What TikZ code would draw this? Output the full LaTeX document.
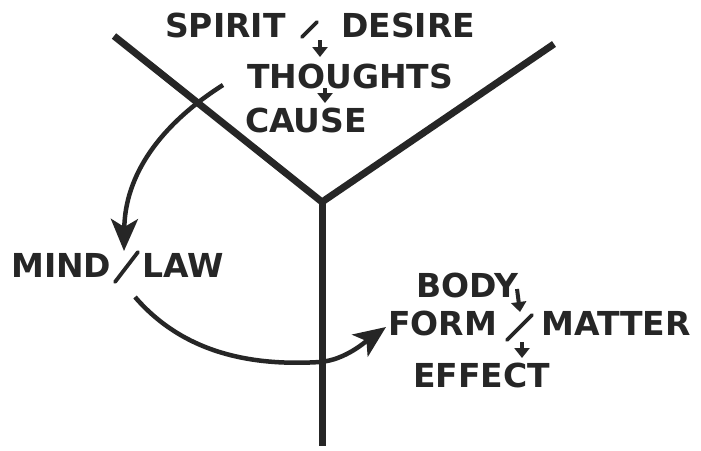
\documentclass[tikz,border=0pt]{standalone}
\usepackage{fontspec}
\usepackage{tikz}
\usetikzlibrary{arrows.meta}
\newfontfamily\diagfont{DejaVu Sans}
\definecolor{ink}{HTML}{262626}

\begin{document}
\begin{tikzpicture}[x=1pt, y=-1pt,
    word/.style={font=\diagfont\bfseries\fontsize{33}{33}\selectfont, text=ink, inner sep=0pt, anchor=base west},
    yline/.style={ink, line width=7pt, line join=round},
    bigarc/.style={ink, line width=4.5pt, -{Stealth[length=32pt,width=27pt,inset=8pt]}},
    smallarrow/.style={ink, line width=4pt, -{Triangle[length=10pt,width=15pt]}},
    slashline/.style={ink, line width=3.8pt, line cap=round}]

    \useasboundingbox (0,0) rectangle (701,450);
    \fill[white] (0,0) rectangle (701,450);

    % the Y
    \coordinate (hub) at (322,202);
    \coordinate (armL) at (114,36);
    \coordinate (armR) at (554,44);
    \coordinate (foot) at (322,446);
    \draw[yline] (armL) -- (hub) -- (armR);
    \draw[yline] (hub) -- (foot);

    % top words
    \node[word] (spirit) at (165,37) {SPIRIT};
    \node[word] (desire) at (341,37) {DESIRE};
    \node[word] (thoughts) at (247,88) {THOUGHTS};
    \node[word] (cause) at (245,132) {CAUSE};

    % left words
    \node[word] (mind) at (11,277) {MIND};
    \node[word] (law) at (142,277) {LAW};

    % right words
    \node[word] (body) at (416,297) {BODY};
    \node[word] (form) at (388,335) {FORM};
    \node[word] (matter) at (541,335) {MATTER};
    \node[word] (effect) at (413,387) {EFFECT};

    % slashes
    \foreach \xa/\ya/\xb/\yb in {302/37/317/22, 115/282/138/252, 507/340/532/315} {
        \draw[slashline] (\xa,\ya) -- (\xb,\yb);
    }

    % small arrows
    \foreach \n/\xa/\ya/\xb/\yb in {a/320/40/320/57, b/325/88/325/103, c/517/289/520/312, d/522/342/522/358} {
        \coordinate (from\n) at (\xa,\ya);
        \coordinate (to\n) at (\xb,\yb);
        \draw[smallarrow] (from\n) -- (to\n);
    }

    % big arcs
    \coordinate (arcAstart) at (223,85);
    \coordinate (arcAend) at (124,251);
    \draw[bigarc] (arcAstart) .. controls (160,125) and (125,175) .. (arcAend);

    \coordinate (arcBstart) at (135,297);
    \coordinate (arcBmid) at (320,362);
    \coordinate (arcBend) at (386,327);
    \draw[bigarc] (arcBstart) .. controls (185,355) and (255,366) .. (arcBmid)
        .. controls (345,360) and (365,342) .. (arcBend);

\end{tikzpicture}
\end{document}
